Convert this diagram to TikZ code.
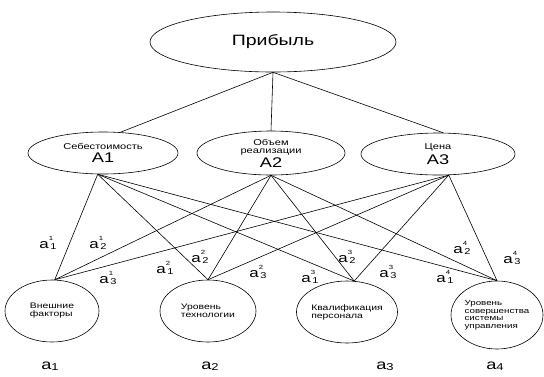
\documentclass[tikz,border=0pt]{standalone}
\usepackage{fontspec}
\setmainfont{Liberation Sans}
\newfontfamily\widefont{Liberation Sans}[FakeStretch=1.3]
\usepackage{tikz}
\usetikzlibrary{shapes}
\newcommand\fs[1]{\fontsize{#1}{#1}\selectfont}
\newcommand\aij[2]{a\rlap{\raisebox{0.6em}{\fs{6}#1}}\raisebox{-0.05em}{\fs{8.5}\hspace{0.2em}#2}}
\newcommand\ai[1]{a\raisebox{-0.1em}{\fs{10}#1}}

\begin{document}
\begin{tikzpicture}[x=1pt,y=-1pt,
  line width=0.6pt,
  goal/.style={ellipse,draw,inner sep=0pt,minimum width=246pt,minimum height=60pt,
    font=\widefont\fs{15}},
  factor/.style={ellipse,draw,inner sep=0pt,align=center,minimum width=150pt,
    minimum height=42pt,font=\widefont\fs{8.5}},
  item/.style={ellipse,draw,inner sep=0pt,align=left,minimum width=94pt,
    minimum height=62pt,font=\widefont\fs{8}},
  lbl/.style={inner sep=0pt,font=\widefont\fs{13}}]
  \useasboundingbox (0,0) rectangle (544,376);

  \node[goal] (profit) at (273,42) {Прибыль};

  \node[factor] (A1) at (103,153) {Себестоимость\\[3pt]{\fs{14}A1}};
  \node[factor,minimum width=148pt,minimum height=44pt] (A2) at (271,153)
    {Объем\\реализации\\[1pt]{\fs{14}A2}};
  \node[factor,minimum width=154pt] (A3) at (438,154) {Цена\\[3pt]{\fs{14}A3}};

  \node[item] (a1) at (52,311) {Внешние\\факторы};
  \node[item,minimum width=96pt] (a2) at (208,311) {Уровень\\технологии};
  \node[item] (a3) at (347,312) {Квалификация\\персонала};
  \node[item,minimum width=92pt,minimum height=68pt,font=\widefont\fs{7.5}] (a4) at (497,315)
    {Уровень\\совершенства\\системы\\управления};

  \draw (profit.south) -- (A1.50);
  \draw (profit.south) -- (A2.north);
  \draw (profit.south) -- (A3.76);

  \foreach \i/\s in {1/256,2/south,3/297}
    \foreach \j/\t in {1/85,2/north,3/77,4/north}
      \draw (A\i.\s) -- (a\j.\t);

  \foreach \j/\i/\x/\y in {1/1/48/243, 1/2/98/243, 1/3/108/278,
                           2/1/165/268, 2/2/200/257, 2/3/258/272,
                           3/1/310/277, 3/2/347/257, 3/3/388/272,
                           4/1/445/277, 4/2/462/248, 4/3/512/258}
    \node[lbl] (l\j\i) at (\x,\y) {\aij{\j}{\i}};

  \node[lbl,font=\widefont\fs{14}] (n1) at (50,366) {\ai{1}};
  \node[lbl,font=\widefont\fs{14}] (n2) at (210,366) {\ai{2}};
  \node[lbl,font=\widefont\fs{14}] (n3) at (385,366) {\ai{3}};
  \node[lbl,font=\widefont\fs{14}] (n4) at (495,366) {\ai{4}};
\end{tikzpicture}
\end{document}
